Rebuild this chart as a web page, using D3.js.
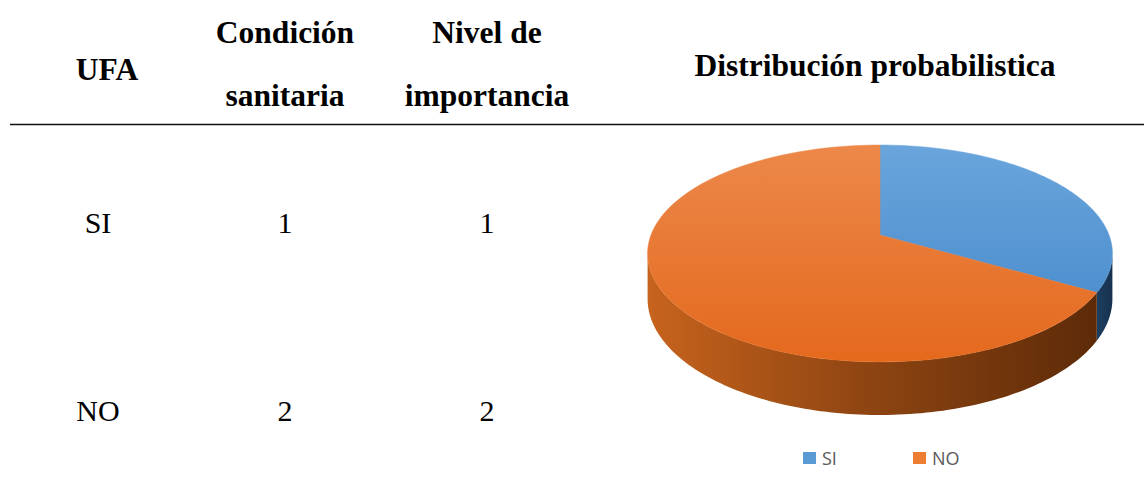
<!DOCTYPE html>
<html><head><meta charset="utf-8">
<script src="https://cdn.jsdelivr.net/npm/d3@7"></script>
<style>html,body{margin:0;padding:0;background:#fff;}svg{display:block;}</style>
</head><body>
<svg id="c" width="1145" height="501"></svg>
<script>
const categories = ["SI", "NO"];
const condicion = [1, 2];
const nivel = [1, 2];
const headers = [["UFA"], ["Condición", "sanitaria"], ["Nivel de", "importancia"], ["Distribución probabilistica"]];
const pieValues = condicion;
const topColors = [["#6aa5dc", "#4186c9"], ["#ec884a", "#e4691d"]];
const sideColors = [["#234a70", "#17324f"], ["#c6631d", "#5a2908"]];
const legendColors = ["#5b9bd5", "#ed7d31"];

const svg = d3.select("#c");
const serif = "'Liberation Serif','Times New Roman',serif";

const colX = d3.scaleOrdinal().domain([0,1,2,3]).range([107, 285, 487, 875]);

// headers
headers.forEach((lines, i) => {
  const ys = lines.length === 1 ? (i === 3 ? [76] : [80]) : [43, 106];
  lines.forEach((t, j) => {
    svg.append("text").attr("x", colX(i)).attr("y", ys[j])
      .attr("text-anchor", "middle").attr("font-family", serif)
      .attr("font-weight", "bold").attr("font-size", 31.5).attr("fill", "#000").text(t);
  });
});
svg.append("line").attr("x1", 10).attr("x2", 1144).attr("y1", 124.5).attr("y2", 124.5)
  .attr("stroke", "#111").attr("stroke-width", 1.6);

const rowY = d3.scalePoint().domain(categories).range([233, 421]);
categories.forEach((c, i) => {
  [c, condicion[i], nivel[i]].forEach((v, j) => {
    svg.append("text").attr("x", j === 0 ? 98 : colX(j)).attr("y", rowY(c))
      .attr("text-anchor", "middle").attr("font-family", serif)
      .attr("font-size", 30).attr("fill", "#000").text(v);
  });
});

// 3D pie
const cx = 880, cy = 235, k = 0.1705, A = 229, B = 105.3, H = 44;
function proj(phi, h) {
  const u = Math.sin(phi), v = Math.cos(phi), w = 1 + k * v;
  return [cx + A * u / w, cy - B * v / w + h * H / w];
}
const defs = svg.append("defs");
topColors.forEach((c, i) => {
  const g = defs.append("linearGradient").attr("id", "top" + i).attr("gradientUnits", "userSpaceOnUse")
    .attr("x1", 0).attr("x2", 0).attr("y1", 145).attr("y2", 362);
  g.append("stop").attr("offset", 0).attr("stop-color", c[0]);
  g.append("stop").attr("offset", 1).attr("stop-color", c[1]);
});
sideColors.forEach((c, i) => {
  const g = defs.append("linearGradient").attr("id", "side" + i).attr("gradientUnits", "userSpaceOnUse")
    .attr("x1", i === 0 ? 1085 : 650).attr("x2", 1112).attr("y1", 0).attr("y2", 0);
  g.append("stop").attr("offset", 0).attr("stop-color", c[0]);
  g.append("stop").attr("offset", 0.5).attr("stop-color", d3.interpolateRgb(c[0], c[1])(0.55));
  g.append("stop").attr("offset", 1).attr("stop-color", c[1]);
});

const arcs = d3.pie().sort(null).startAngle(0).endAngle(2 * Math.PI)(pieValues);
const phiL = Math.PI / 2 + Math.asin(k), phiR = 3 * Math.PI / 2 - Math.asin(k);
const N = 120;
const line = d3.line();
const gPie = svg.append("g");
arcs.forEach((a, i) => {
  const a0 = Math.max(a.startAngle, phiL), a1 = Math.min(a.endAngle, phiR);
  if (a1 <= a0) return;
  const pts = [];
  for (let s = 0; s <= N; s++) pts.push(proj(a0 + (a1 - a0) * s / N, 0));
  for (let s = N; s >= 0; s--) pts.push(proj(a0 + (a1 - a0) * s / N, 1));
  gPie.append("path").attr("d", line(pts) + "Z").attr("fill", `url(#side${i})`);
});
arcs.forEach((a, i) => {
  const pts = [[cx, cy]];
  for (let s = 0; s <= N; s++) pts.push(proj(a.startAngle + (a.endAngle - a.startAngle) * s / N, 0));
  gPie.append("path").attr("d", line(pts) + "Z").attr("fill", `url(#top${i})`)
    .attr("stroke", `url(#top${i})`).attr("stroke-width", 0.5);
});

// legend
const legX = d3.scaleOrdinal().domain(categories).range([803, 913]);
categories.forEach((c, i) => {
  svg.append("rect").attr("x", legX(c)).attr("y", 452).attr("width", 13).attr("height", 12)
    .attr("fill", legendColors[i]);
  svg.append("text").attr("x", legX(c) + 19).attr("y", 465)
    .attr("font-family", "'Open Sans','Liberation Sans',sans-serif").attr("font-size", 18)
    .attr("fill", "#595959").text(c);
});
</script>
</body></html>
